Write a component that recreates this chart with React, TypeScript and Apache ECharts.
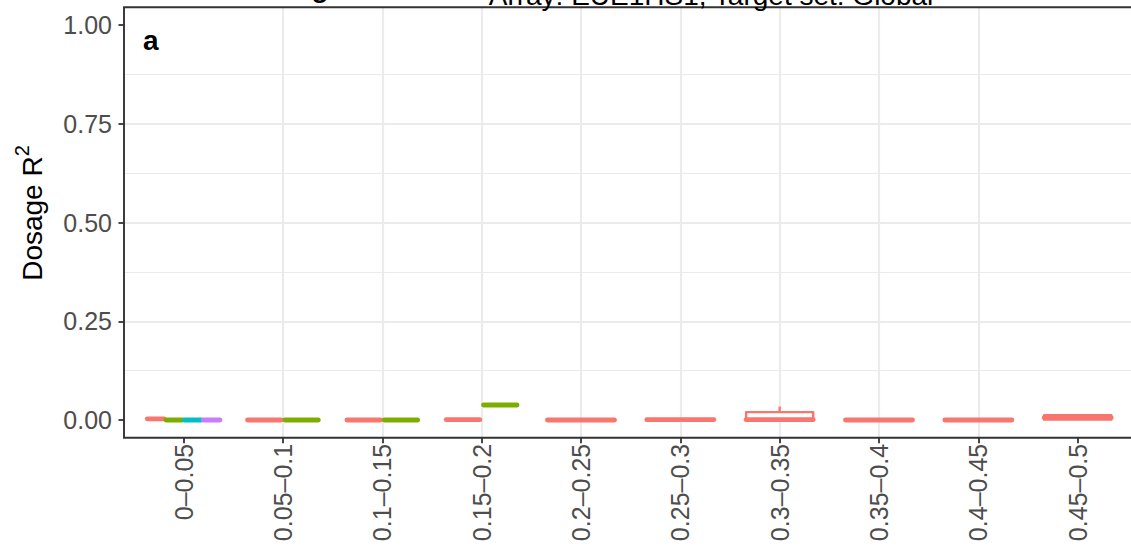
import React, { useEffect, useRef } from 'react';
import * as echarts from 'echarts';

// ---------- data ----------
const categories = [
  '0–0.05', '0.05–0.1', '0.1–0.15', '0.15–0.2', '0.2–0.25',
  '0.25–0.3', '0.3–0.35', '0.35–0.4', '0.4–0.45', '0.45–0.5',
];
const groupNames = ['Group 1', 'Group 2', 'Group 3', 'Group 4'];
const groupColors = ['#F8766D', '#7CAE00', '#00BFC4', '#C77CFF'];

// [min, q1, median, q3, max] for each category; null = group absent
const redStats = [
  [0.001, 0.002, 0.003, 0.003, 0.004],
  [0, 0, 0, 0.001, 0.001],
  [0, 0, 0, 0.001, 0.001],
  [0, 0.001, 0.001, 0.002, 0.003],
  [0, 0, 0, 0.001, 0.001],
  [0, 0, 0.001, 0.002, 0.003],
  [0, 0, 0.001, 0.02, 0.034],
  [0, 0, 0, 0.001, 0.001],
  [0, 0, 0, 0.001, 0.001],
  [0, 0.001, 0.006, 0.012, 0.013],
];
const greenStats = [
  [0, 0, 0, 0, 0.001],
  [0, 0, 0, 0.001, 0.001],
  [0, 0, 0, 0.001, 0.001],
  [0.036, 0.037, 0.038, 0.039, 0.04],
  null, null, null, null, null, null,
];
const cyanStats = [
  [0, 0, 0, 0, 0.001],
  null, null, null, null, null, null, null, null, null,
];
const purpleStats = [
  [0, 0, 0, 0, 0.001],
  null, null, null, null, null, null, null, null, null,
];

const yTicks = [0, 0.25, 0.5, 0.75, 1];
const titleText = 'Array: EUE1HS1, Target set: Global';
const titleFragment = 'g';
const panelTag = 'a';
const yTitleMain = 'Dosage R';
const yTitleSup = '2';

// ---------- helpers ----------
const FONT = '"Liberation Sans", Arial, Helvetica, sans-serif';
const TICK_FONT = 25;
const allStats = [redStats, greenStats, cyanStats, purpleStats];

function seriesData(g: number) {
  const out: number[][] = [];
  allStats[g].forEach((s, c) => {
    if (!s) return;
    const present = allStats.map((st, gi) => (st[c] ? gi : -1)).filter((x) => x >= 0);
    out.push([c, present.indexOf(g), present.length, ...(s as number[])]);
  });
  return out;
}

function makeRenderItem(color: string) {
  return (params: any, api: any) => {
    const c = api.value(0);
    const slot = api.value(1);
    const n = api.value(2);
    const mn = api.value(3), q1 = api.value(4), md = api.value(5), q3 = api.value(6), mx = api.value(7);
    const unit = api.size([1, 0])[0];
    const xc = api.coord([c, 0])[0];
    const total = 0.75 * unit;
    const w = total / n;
    const cx = xc - total / 2 + (slot + 0.5) * w;
    const bw = w * 0.9;
    const yMin = api.coord([c, mn])[1];
    const yQ1 = api.coord([c, q1])[1];
    const yMd = api.coord([c, md])[1];
    const yQ3 = api.coord([c, q3])[1];
    const yMax = api.coord([c, mx])[1];
    const lw = 2.4;
    return {
      type: 'group',
      children: [
        { type: 'line', shape: { x1: cx, y1: yMax, x2: cx, y2: yQ3 }, style: { stroke: color, lineWidth: lw } },
        { type: 'line', shape: { x1: cx, y1: yQ1, x2: cx, y2: yMin }, style: { stroke: color, lineWidth: lw } },
        {
          type: 'rect',
          shape: { x: cx - bw / 2, y: yQ3, width: bw, height: Math.max(yQ1 - yQ3, 0) },
          style: { fill: '#ffffff', stroke: color, lineWidth: lw, lineJoin: 'round' },
        },
        {
          type: 'line',
          shape: { x1: cx - bw / 2, y1: yMd, x2: cx + bw / 2, y2: yMd },
          style: { stroke: color, lineWidth: 4.8, lineCap: 'round' },
        },
      ],
    };
  };
}

export default function App() {
  const ref = useRef<HTMLDivElement>(null);

  useEffect(() => {
    if (!ref.current) return;
    const chart = echarts.init(ref.current, null, { renderer: 'svg' });
    const gridLeft = 124;
    const gridTop = 7.2;
    const gridWidth = 1013.3;
    const gridHeight = 430.6;

    const option: any = {
      animation: false,
      backgroundColor: '#ffffff',
      grid: {
        left: gridLeft,
        top: gridTop,
        width: gridWidth,
        height: gridHeight,
        containLabel: false,
        outerBoundsMode: 'none',
      },
      xAxis: {
        type: 'value',
        min: -0.6,
        max: 9.6,
        minInterval: 1,
        maxInterval: 1,
        axisLine: { show: false, onZero: false },
        axisTick: {
          show: true,
          length: 5.5,
          customValues: categories.map((_, i) => i),
          lineStyle: { color: '#333333', width: 1.8 },
        },
        axisLabel: {
          show: true,
          customValues: categories.map((_, i) => i),
          rotate: 90,
          margin: 6,
          fontSize: TICK_FONT,
          color: '#4D4D4D',
          fontFamily: FONT,
          formatter: (v: number) => {
            const r = Math.round(v);
            if (Math.abs(v - r) > 1e-6) return '';
            return categories[r] ?? '';
          },
        },
        splitLine: {
          show: true,
          showMinLine: false,
          showMaxLine: false,
          lineStyle: { color: '#EBEBEB', width: 2.1 },
        },
      },
      yAxis: {
        type: 'value',
        min: -0.045,
        max: 1.045,
        minInterval: 0.25,
        maxInterval: 0.25,
        axisLine: { show: false, onZero: false },
        axisTick: {
          show: true,
          length: 5.5,
          customValues: yTicks,
          lineStyle: { color: '#333333', width: 1.8 },
        },
        axisLabel: {
          show: true,
          customValues: yTicks,
          margin: 12,
          fontSize: TICK_FONT,
          color: '#4D4D4D',
          fontFamily: FONT,
          formatter: (v: number) => {
            const hit = yTicks.find((t) => Math.abs(t - v) < 1e-6);
            return hit === undefined ? '' : hit.toFixed(2);
          },
        },
        splitLine: {
          show: true,
          showMinLine: false,
          showMaxLine: false,
          lineStyle: { color: '#EBEBEB', width: 2.1 },
        },
        minorTick: { show: false, splitNumber: 2 },
        minorSplitLine: { show: true, lineStyle: { color: '#EBEBEB', width: 1.05 } },
      },
      series: groupNames.map((name, g) => ({
        type: 'custom',
        name,
        renderItem: makeRenderItem(groupColors[g]),
        data: seriesData(g),
        encode: { x: 0, y: [3, 4, 5, 6, 7] },
        z: 3 + g,
      })),
      graphic: [
        {
          type: 'rect',
          z: 50,
          silent: true,
          shape: { x: gridLeft, y: gridTop, width: gridWidth, height: gridHeight },
          style: { fill: 'none', stroke: '#333333', lineWidth: 1.9 },
        },
        {
          type: 'text',
          z: 60,
          x: 711,
          y: -4.8,
          style: {
            text: titleText,
            fontSize: 28,
            fontFamily: FONT,
            fill: '#000000',
            align: 'center',
            verticalAlign: 'middle',
          },
        },
        {
          type: 'text',
          z: 60,
          x: 320,
          y: -12.4,
          style: {
            text: titleFragment,
            fontSize: 28,
            fontWeight: 'bold',
            fontFamily: FONT,
            fill: '#000000',
            align: 'center',
            verticalAlign: 'middle',
          },
        },
        {
          type: 'text',
          z: 60,
          x: 143,
          y: 40.2,
          style: {
            text: panelTag,
            fontSize: 28,
            fontWeight: 'bold',
            fontFamily: FONT,
            fill: '#000000',
            align: 'left',
            verticalAlign: 'middle',
          },
        },
        {
          type: 'text',
          z: 60,
          x: 32,
          y: 213,
          rotation: Math.PI / 2,
          style: {
            text: `{a|${yTitleMain}}{s|${yTitleSup}}`,
            align: 'center',
            verticalAlign: 'middle',
            rich: {
              a: { fontSize: 28, fontFamily: FONT, fill: '#000000', lineHeight: 40, verticalAlign: 'middle' },
              s: { fontSize: 20, fontFamily: FONT, fill: '#000000', lineHeight: 20, verticalAlign: 'top' },
            },
          },
        },
      ],
    };
    chart.setOption(option);
    return () => chart.dispose();
  }, []);

  return (
    <div
      ref={ref}
      style={{ position: 'fixed', left: 0, top: 0, width: 1131, height: 550, background: '#ffffff' }}
    />
  );
}
